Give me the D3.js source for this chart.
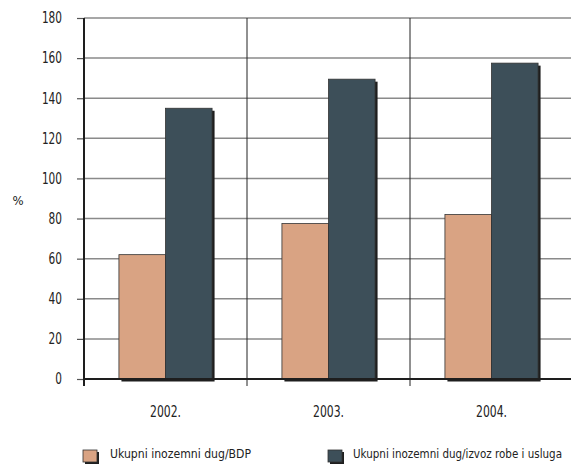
<!DOCTYPE html>
<html><head><meta charset="utf-8">
<script src="https://cdn.jsdelivr.net/npm/d3@7"></script>
<style>
body{margin:0;background:#fff;}
text{font-family:"DejaVu Sans",sans-serif;font-stretch:condensed;fill:#222;}
</style></head>
<body><svg id="c" width="571" height="466"></svg>
<script>
const categories = ["2002.", "2003.", "2004."];
const seriesNames = ["Ukupni inozemni dug/BDP", "Ukupni inozemni dug/izvoz robe i usluga"];
const seriesBDP = [62, 77.5, 82];
const seriesIzvoz = [135, 149.5, 157.5];
const yTicks = [0, 20, 40, 60, 80, 100, 120, 140, 160, 180];
const colors = ["#D9A383", "#3D4F59"];

const svg = d3.select("#c");
const pLeft = 84, pRight = 573, pTop = 18, pBottom = 379;
const x = d3.scaleBand().domain(categories).range([pLeft, pRight]).paddingInner(0).paddingOuter(0);
const x1 = d3.scaleBand().domain([0, 1]).range([0, x.bandwidth()]).paddingOuter(0.75).paddingInner(0);
const y = d3.scaleLinear().domain([0, 180]).range([pBottom, pTop]);
const digitW = 6.7;

// horizontal gridlines
svg.append("g").selectAll("line").data(yTicks.filter(d => d > 0)).join("line")
  .attr("x1", pLeft).attr("x2", 571).attr("y1", d => y(d)).attr("y2", d => y(d))
  .attr("stroke", "#8a8a8a").attr("stroke-width", 1.5);

// vertical category separators
svg.append("g").selectAll("line").data(categories.slice(1)).join("line")
  .attr("x1", d => x(d)).attr("x2", d => x(d)).attr("y1", pTop).attr("y2", pBottom + 7)
  .attr("stroke", "#222").attr("stroke-width", 1);

// y axis
const yAxis = d3.axisLeft(y).tickValues(yTicks).tickSize(7).tickPadding(15);
const ga = svg.append("g").attr("transform", `translate(${pLeft},0)`).call(yAxis);
ga.select(".domain").remove();
ga.selectAll(".tick line").attr("stroke", "#555").attr("stroke-width", 1.2);
ga.selectAll(".tick text").attr("font-size", 15).attr("fill", "#222")
  .attr("font-family", null).style("font-family", '"DejaVu Sans",sans-serif')
  .style("font-stretch", "condensed")
  .attr("textLength", d => String(d).length * digitW).attr("lengthAdjust", "spacingAndGlyphs");

const data = categories.map((c, i) => ({c, v: [seriesBDP[i], seriesIzvoz[i]]}));
const g = svg.append("g");
data.forEach(d => {
  d.v.forEach((v, s) => {
    const bx = x(d.c) + x1(s), bw = x1.bandwidth();
    g.append("rect").attr("x", bx + 2.5).attr("y", y(v) + 2.5)
      .attr("width", bw).attr("height", pBottom - y(v)).attr("fill", "#1e1e1e");
    g.append("rect").attr("x", bx).attr("y", y(v))
      .attr("width", bw).attr("height", pBottom - y(v))
      .attr("fill", colors[s]).attr("stroke", "#333").attr("stroke-width", 0.8);
  });
});

// axis lines
svg.append("line").attr("x1", pLeft).attr("x2", 571).attr("y1", pBottom).attr("y2", pBottom)
  .attr("stroke", "#1e1e1e").attr("stroke-width", 2);
svg.append("line").attr("x1", pLeft).attr("x2", pLeft).attr("y1", pTop).attr("y2", pBottom + 7)
  .attr("stroke", "#1e1e1e").attr("stroke-width", 2);

// x labels
svg.append("g").selectAll("text").data(categories).join("text")
  .attr("x", d => x(d) + x.bandwidth() / 2).attr("y", 417)
  .attr("text-anchor", "middle").attr("font-size", 15)
  .attr("textLength", 31).attr("lengthAdjust", "spacingAndGlyphs").text(d => d);

// y title
svg.append("text").attr("x", 18).attr("y", 205).attr("text-anchor", "middle")
  .attr("font-size", 13).text("%");

// legend
const legX = [83, 328];
const legTextX = [110, 353];
const legTextW = [141, 209];
seriesNames.forEach((n, i) => {
  svg.append("rect").attr("x", legX[i] + 2).attr("y", 452).attr("width", 14).attr("height", 12).attr("fill", "#1e1e1e");
  svg.append("rect").attr("x", legX[i]).attr("y", 450).attr("width", 14).attr("height", 12)
    .attr("fill", colors[i]).attr("stroke", "#333").attr("stroke-width", 0.8);
  svg.append("text").attr("x", legTextX[i]).attr("y", 458).attr("font-size", 12)
    .attr("textLength", legTextW[i]).attr("lengthAdjust", "spacingAndGlyphs").text(n);
});
</script></body></html>
